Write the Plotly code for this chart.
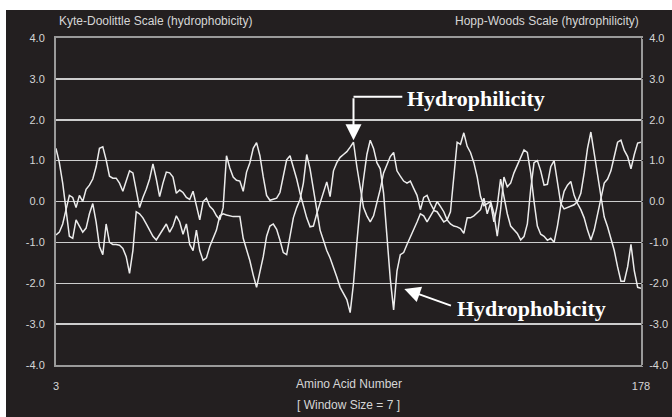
import plotly.graph_objects as go

# ---------------- data ----------------
amino = list(range(3, 179))

# Kyte-Doolittle (hydrophobicity), window size 7
kd = [
    1.3, 0.95, 0.45, -0.2, -0.85, -0.9, -0.45, -0.6, -0.75, -0.65,      # 3-12
    -0.3, -0.05, -0.5, -1.1, -1.3, -0.55, -1.0, -1.05, -1.05, -1.07,    # 13-22
    -1.15, -1.35, -1.76, -1.2, -0.25, -0.3, -0.4, -0.55, -0.72, -0.85,  # 23-32
    -0.94, -0.8, -0.68, -0.55, -0.75, -0.6, -0.35, -0.5, -0.8, -0.55,   # 33-42
    -1.05, -1.2, -0.7, -1.2, -1.44, -1.38, -1.1, -0.9, -0.7, -0.35,     # 43-52
    -0.3, -0.33, -0.35, -0.37, -0.37, -0.37, -0.9, -1.15, -1.45, -1.8,  # 53-62
    -2.1, -1.72, -1.35, -0.85, -0.6, -0.55, -0.68, -0.95, -1.25, -1.3,  # 63-72
    -0.8, -0.4, -0.15, 0.05, 0.45, 1.15, 0.8, 0.3, -0.2, -0.7,          # 73-82
    -0.95, -1.2, -1.38, -1.6, -1.85, -2.1, -2.25, -2.4, -2.72, -2.0,    # 83-92
    -1.0, -0.1, 0.55, 1.15, 1.5, 1.3, 0.95, 0.8, 0.2, -0.8,             # 93-102
    -1.9, -2.65, -1.7, -1.3, -1.25, -1.05, -0.88, -0.7, -0.5, -0.3,     # 103-112
    -0.35, -0.5, -0.35, -0.22, -0.25, -0.37, -0.5, -0.45, -0.55, -0.6,  # 113-122
    -0.62, -0.66, -0.78, -0.4, -0.4, -0.35, -0.28, -0.2, 0.08, -0.3,    # 123-132
    -0.04, -0.5, -0.1, 0.55, 0.12, -0.3, -0.6, -0.7, -0.78, -0.94,      # 133-142
    -0.86, -0.55, 0.3, 0.95, 1.0, 0.75, 0.4, 0.42, 0.85, 1.0,           # 143-152
    0.5, -0.05, -0.18, -0.15, -0.12, -0.08, 0.0, 0.2, 0.7, 1.3,         # 153-162
    1.7, 1.15, 0.65, 0.1, -0.38, -0.62, -0.88, -1.2, -1.6, -1.95,       # 163-172
    -1.95, -1.6, -1.05, -1.7, -2.1, -2.12,                              # 173-178
]

# Hopp-Woods (hydrophilicity), window size 7
hw = [
    -0.82, -0.75, -0.55, -0.2, 0.15, 0.1, -0.15, 0.15, 0.0, 0.3,        # 3-12
    0.4, 0.55, 0.85, 1.3, 1.34, 1.02, 0.62, 0.57, 0.57, 0.45,           # 13-22
    0.25, 0.5, 0.75, 0.7, 0.3, -0.15, 0.1, 0.3, 0.55, 0.92,             # 23-32
    0.55, 0.12, 0.45, 0.72, 0.7, 0.6, 0.2, 0.28, 0.22, 0.1,             # 33-42
    0.05, 0.25, -0.1, -0.45, 0.0, 0.08, -0.12, -0.2, -0.35, -0.45,      # 43-52
    -0.15, 1.12, 0.82, 0.6, 0.52, 0.5, 0.25, 0.72, 0.95, 1.3,           # 53-62
    1.44, 1.12, 0.6, 0.15, 0.03, 0.05, 0.08, 0.22, 0.62, 1.02,          # 63-72
    1.12, 0.85, 0.55, 0.2, -0.1, -0.4, -0.62, -0.6, -0.3, -0.05,        # 73-82
    0.22, 0.48, 0.12, 0.75, 0.95, 1.08, 1.15, 1.22, 1.33, 1.45,         # 83-92
    0.85, 0.35, -0.15, -0.35, -0.5, -0.35, -0.05, 0.3, 0.7, 0.92,       # 93-102
    1.1, 1.2, 0.75, 0.62, 0.5, 0.45, 0.5, 0.32, 0.15, -0.2,             # 103-112
    0.1, 0.15, -0.05, -0.2, 0.0, -0.12, -0.25, -0.45, -0.25, 0.6,       # 113-122
    1.45, 1.4, 1.68, 1.35, 1.2, 0.95, 0.6, 0.12, -0.1, -0.05,           # 123-132
    0.0, -0.3, -0.85, -0.2, 0.6, 0.36, 0.45, 0.7, 0.88, 1.1,            # 133-142
    1.26, 1.2, 0.7, 0.0, -0.6, -0.8, -0.85, -0.95, -0.9, -1.0,          # 143-152
    -0.6, -0.1, 0.25, 0.4, 0.49, 0.15, -0.05, -0.2, -0.4, -0.7,         # 153-162
    -0.94, -0.7, -0.3, 0.1, 0.45, 0.55, 0.75, 1.1, 1.45, 1.5,           # 163-172
    1.25, 1.1, 0.8, 1.15, 1.43, 1.45,                                   # 173-178
]

y_ticks = [-4, -3, -2, -1, 0, 1, 2, 3, 4]
y_tick_labels = ["-4.0", "-3.0", "-2.0", "-1.0", "0.0", "1.0", "2.0", "3.0", "4.0"]
x_ticks = [3, 178]
x_tick_labels = ["3", "178"]

# ---------------- styling ----------------
BG = "#231f20"
LINE = "#ececec"
GRID = "#cdcdcd"
FRAME = "#9a9a9a"
TXT = "#d6d6d6"
SANS = "Liberation Sans, Arial, sans-serif"
SERIF = "Liberation Serif, Times New Roman, serif"

fig = go.Figure()
fig.add_trace(go.Scatter(x=amino, y=kd, mode="lines", yaxis="y",
                         line=dict(color=LINE, width=1.5), hoverinfo="skip"))
fig.add_trace(go.Scatter(x=amino, y=hw, mode="lines", yaxis="y2",
                         line=dict(color=LINE, width=1.5), hoverinfo="skip"))

L, R, T, B = 56, 31, 38, 52
W, H = 672, 417
pw, ph = W - L - R, H - T - B

def px_x(p):
    return (p - L) / pw

def px_y(p):
    return (H - B - p) / ph

fig.update_layout(
    width=W, height=H,
    margin=dict(l=L, r=R, t=T, b=B, pad=0, autoexpand=False),
    paper_bgcolor="white",
    plot_bgcolor=BG,
    showlegend=False,
    xaxis=dict(range=[3, 178], tickvals=x_ticks, ticktext=x_tick_labels,
               showgrid=False, zeroline=False, showline=True, mirror=True,
               linecolor=FRAME, linewidth=2, ticks="outside", ticklen=10,
               tickcolor=BG, tickfont=dict(family=SANS, size=11, color=TXT)),
    yaxis=dict(range=[-4, 4], tickvals=y_ticks, ticktext=y_tick_labels,
               showgrid=True, gridcolor=GRID, gridwidth=1.5, zeroline=False,
               showline=True, mirror=True, linecolor=FRAME, linewidth=2,
               ticks="outside", ticklen=7, tickcolor=BG,
               tickfont=dict(family=SANS, size=11, color=TXT)),
    yaxis2=dict(range=[-4, 4], tickvals=y_ticks, ticktext=y_tick_labels,
                overlaying="y", side="right", showgrid=False, zeroline=False,
                showline=False, ticks="outside", ticklen=5, tickcolor=BG,
                tickfont=dict(family=SANS, size=11, color=TXT)),
)

# dark panel behind everything
fig.add_shape(type="rect", xref="paper", yref="paper",
              x0=px_x(6), x1=px_x(680), y0=px_y(425), y1=px_y(10),
              fillcolor=BG, line=dict(width=0), layer="below")

small = dict(family=SANS, size=12, color=TXT)
fig.add_annotation(text="Kyte-Doolittle Scale (hydrophobicity)", xref="paper", yref="paper",
                   x=px_x(57), y=px_y(21), xanchor="left", yanchor="middle",
                   showarrow=False, font=small)
fig.add_annotation(text="Hopp-Woods Scale (hydrophilicity)", xref="paper", yref="paper",
                   x=px_x(641), y=px_y(21), xanchor="right", yanchor="middle",
                   showarrow=False, font=small)
fig.add_annotation(text="Amino Acid Number", xref="paper", yref="paper",
                   x=0.5, y=px_y(384), xanchor="center", yanchor="middle",
                   showarrow=False, font=small)
fig.add_annotation(text="[ Window Size = 7 ]", xref="paper", yref="paper",
                   x=0.5, y=px_y(405), xanchor="center", yanchor="middle",
                   showarrow=False, font=small)

big = dict(family=SERIF, size=22, color="white")
# Hydrophilicity callout (points at the Hopp-Woods peak near residue 92)
fig.add_annotation(text="<b>Hydrophilicity</b>", x=107.4, y=2.51, xref="x", yref="y",
                   xanchor="left", yanchor="middle", showarrow=False, font=big)
fig.add_shape(type="line", xref="x", yref="y", x0=92, x1=106.6, y0=2.56, y1=2.56,
              line=dict(color="white", width=2))
fig.add_annotation(text="", x=92, y=hw[amino.index(92)] + 0.05, xref="x", yref="y",
                   ax=92, ay=2.56, axref="x", ayref="y", showarrow=True,
                   arrowhead=2, arrowsize=1.6, arrowwidth=2, arrowcolor="white",
                   standoff=0)
# Hydrophobicity callout
fig.add_annotation(text="<b>Hydrophobicity</b>", x=122.4, y=-2.61, xref="x", yref="y",
                   xanchor="left", yanchor="middle", showarrow=False, font=big)
fig.add_annotation(text="", x=107.2, y=-2.14, xref="x", yref="y",
                   ax=121.6, ay=-2.56, axref="x", ayref="y", showarrow=True,
                   arrowhead=2, arrowsize=1.6, arrowwidth=2, arrowcolor="white",
                   standoff=0)

fig.write_html("out.html",
               config={"displayModeBar": False, "staticPlot": True},
               post_script="document.body.style.margin='0px';document.body.style.overflow='hidden';")
